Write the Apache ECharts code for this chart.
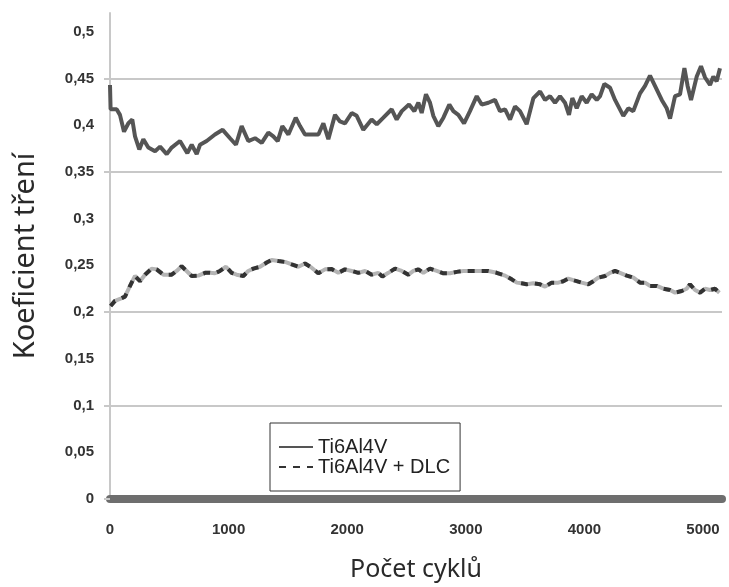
<!DOCTYPE html>
<html>
<head>
<meta charset="utf-8">
<script src="https://cdn.jsdelivr.net/npm/echarts@6/dist/echarts.min.js"></script>
<style>
html,body{margin:0;padding:0;background:#fff;}
#chart{width:729px;height:587px;}
</style>
</head>
<body>
<div id="chart"></div>
<script>
// ---- data ----
const seriesNames = ['Ti6Al4V', 'Ti6Al4V + DLC'];
const xTickValues = [0, 1000, 2000, 3000, 4000, 5000];
const yTickValues = [0, 0.05, 0.1, 0.15, 0.2, 0.25, 0.3, 0.35, 0.4, 0.45, 0.5];
const gridValues = [0.1, 0.2, 0.35, 0.45];
const xRange = [0, 5160];

const tiX = [0,5,56,84,118,155,188,211,247,281,323,380,422,478,520,590,652,689,731,759,815,885,950,1012,1062,1110,1166,1223,1279,1335,1377,1414,1453,1504,1566,1602,1644,1715,1757,1799,1841,1897,1939,1981,2038,2080,2136,2206,2249,2305,2375,2417,2460,2521,2566,2600,2628,2664,2698,2726,2768,2811,2861,2895,2937,2985,3035,3092,3134,3190,3246,3288,3331,3373,3415,3457,3513,3570,3626,3668,3710,3752,3794,3836,3870,3898,3935,3977,4019,4061,4104,4132,4168,4216,4258,4328,4370,4412,4469,4511,4553,4595,4652,4694,4722,4764,4806,4843,4870,4899,4947,4983,5017,5059,5087,5115,5143];
const tiY = [0.443,0.417,0.417,0.411,0.393,0.402,0.406,0.388,0.374,0.385,0.376,0.372,0.377,0.369,0.376,0.383,0.370,0.379,0.369,0.379,0.383,0.390,0.395,0.386,0.379,0.399,0.383,0.386,0.381,0.392,0.388,0.383,0.399,0.390,0.408,0.399,0.390,0.390,0.390,0.402,0.385,0.411,0.404,0.402,0.413,0.410,0.395,0.406,0.401,0.408,0.417,0.406,0.415,0.422,0.415,0.424,0.413,0.433,0.424,0.410,0.399,0.408,0.422,0.415,0.411,0.402,0.415,0.431,0.422,0.424,0.427,0.415,0.417,0.406,0.420,0.415,0.401,0.429,0.436,0.427,0.431,0.424,0.431,0.424,0.411,0.429,0.418,0.431,0.424,0.433,0.427,0.431,0.444,0.440,0.427,0.410,0.418,0.415,0.434,0.442,0.453,0.442,0.427,0.418,0.407,0.431,0.433,0.461,0.442,0.427,0.452,0.463,0.451,0.443,0.452,0.447,0.461];

const dlcX = [5,42,84,126,169,211,253,295,351,393,450,520,562,604,646,689,745,801,843,885,927,978,1026,1068,1124,1166,1209,1265,1321,1363,1419,1476,1532,1588,1644,1700,1756,1813,1869,1925,1981,2038,2094,2150,2206,2263,2296,2347,2403,2460,2516,2558,2600,2642,2698,2755,2811,2867,2923,2980,3049,3120,3190,3260,3331,3387,3430,3470,3513,3570,3626,3668,3724,3780,3822,3864,3920,3977,4033,4075,4117,4174,4216,4258,4300,4357,4413,4469,4511,4553,4610,4666,4722,4764,4820,4862,4890,4933,4975,5017,5059,5101,5138];
const dlcY = [0.2065,0.212,0.214,0.2165,0.228,0.2386,0.233,0.240,0.2465,0.2457,0.240,0.240,0.244,0.249,0.244,0.2386,0.239,0.242,0.242,0.2415,0.244,0.2485,0.242,0.240,0.2386,0.244,0.2465,0.2485,0.253,0.2557,0.2546,0.2536,0.251,0.2485,0.252,0.2475,0.2415,0.2457,0.246,0.242,0.2457,0.244,0.242,0.244,0.240,0.242,0.238,0.242,0.2465,0.244,0.240,0.244,0.2457,0.242,0.2465,0.244,0.2415,0.2415,0.243,0.244,0.244,0.244,0.244,0.242,0.239,0.235,0.2315,0.2308,0.2297,0.2308,0.2297,0.2272,0.2315,0.2315,0.233,0.2358,0.2336,0.2315,0.2297,0.233,0.2368,0.2386,0.242,0.244,0.242,0.239,0.2368,0.2315,0.2315,0.228,0.228,0.225,0.2236,0.2208,0.2225,0.225,0.2297,0.2236,0.2208,0.225,0.2236,0.225,0.2208];

// ---- build ----
const pair = (xs, ys) => xs.map((x, i) => [x, ys[i]]);
const tiData = pair(tiX, tiY);
const dlcData = pair(dlcX, dlcY);

const fmtY = v => v === 0 ? '0' : String(Math.round(v * 100) / 100).replace('.', ',');
const fmtX = v => String(v);

const chart = echarts.init(document.getElementById('chart'), null, {renderer: 'canvas'});
chart.setOption({
  animation: false,
  backgroundColor: '#ffffff',
  grid: {left: 110, right: 7, top: 13, bottom: 87, containLabel: false},
  legend: {
    data: seriesNames,
    orient: 'vertical',
    left: 270,
    top: 423,
    padding: [14, 10, 14, 8],
    itemGap: 0,
    itemWidth: 34,
    itemHeight: 1,
    borderColor: '#333',
    borderWidth: 1,
    backgroundColor: '#fff',
    lineStyle: {width: 2},
    textStyle: {fontFamily: 'Liberation Sans, Arial, sans-serif', fontSize: 20, color: '#222', lineHeight: 19}
  },
  xAxis: {
    type: 'value',
    min: xRange[0],
    max: xRange[1],
    name: 'Počet cyklů',
    nameLocation: 'middle',
    nameGap: 58,
    nameTextStyle: {fontFamily: 'Noto Sans, sans-serif', fontSize: 25, color: '#2a2a2a'},
    axisLine: {show: true, onZero: false, lineStyle: {color: '#6e6e6e', width: 8}},
    axisTick: {show: false},
    splitLine: {show: false},
    axisLabel: {
      customValues: xTickValues,
      formatter: fmtX,
      margin: 23,
      fontFamily: 'Liberation Sans, Arial, sans-serif',
      fontWeight: 'bold',
      fontSize: 15,
      color: '#333'
    }
  },
  yAxis: {
    type: 'value',
    min: 0,
    max: 0.52,
    name: 'Koeficient tření',
    nameLocation: 'middle',
    nameGap: 70,
    nameTextStyle: {fontFamily: 'Noto Sans, sans-serif', fontSize: 29, color: '#2a2a2a'},
    axisLine: {show: true, lineStyle: {color: '#c8c8c8', width: 2}},
    axisTick: {show: true, customValues: gridValues.concat([0]), length: 6, lineStyle: {color: '#c8c8c8', width: 2}},
    splitLine: {show: true, lineStyle: {color: '#c8c8c8', width: 2}},
    axisLabel: {
      customValues: yTickValues,
      formatter: fmtY,
      margin: 16,
      fontFamily: 'Liberation Sans, Arial, sans-serif',
      fontWeight: 'bold',
      fontSize: 15,
      color: '#333'
    }
  },
  series: [
    {
      name: 'dlc-bg',
      type: 'line',
      data: dlcData,
      showSymbol: false,
      symbol: 'none',
      lineStyle: {color: '#b4b4b4', width: 4},
      z: 3
    },
    {
      name: seriesNames[1],
      type: 'line',
      data: dlcData,
      showSymbol: false,
      symbol: 'none',
      color: '#333333',
      lineStyle: {color: '#333333', width: 4, type: [7, 7]},
      z: 4
    },
    {
      name: seriesNames[0],
      type: 'line',
      data: tiData,
      showSymbol: false,
      symbol: 'none',
      color: '#555555',
      lineStyle: {color: '#555555', width: 4},
      z: 5
    }
  ]
});
</script>
</body>
</html>
